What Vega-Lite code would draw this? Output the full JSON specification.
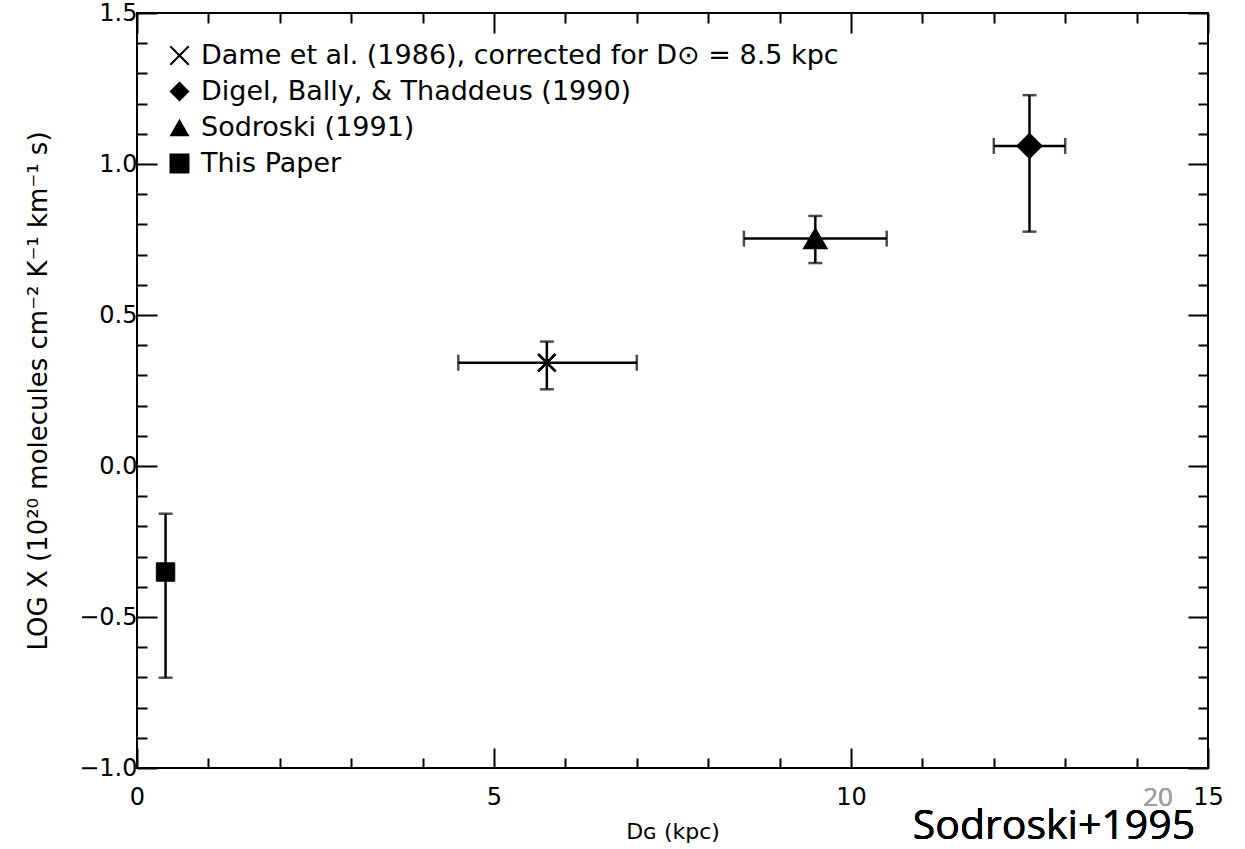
{
  "$schema": "https://vega.github.io/schema/vega-lite/v6.json",
  "width": 1071,
  "height": 755,
  "autosize": {"type": "none"},
  "padding": {"left": 137, "top": 13, "right": 37, "bottom": 81},
  "background": "white",
  "config": {
    "view": {"stroke": "black", "strokeWidth": 2},
    "font": "DejaVu Sans",
    "axis": {
      "grid": false,
      "domain": false,
      "labelFlush": false,
      "tickColor": "black",
      "tickWidth": 2,
      "labelColor": "black",
      "labelFont": "DejaVu Sans",
      "labelFontSize": 24,
      "titleFont": "DejaVu Sans",
      "titleColor": "black",
      "titleFontWeight": "normal",
      "titleFontSize": 22
    },
    "legend": {
      "orient": "top-left",
      "offset": 29,
      "padding": 0,
      "labelFont": "DejaVu Sans",
      "labelFontSize": 27,
      "labelColor": "black",
      "labelLimit": 1000,
      "symbolSize": 400,
      "symbolFillColor": "black",
      "symbolStrokeColor": "black",
      "symbolStrokeWidth": 1,
      "rowPadding": 8,
      "labelOffset": 8
    }
  },
  "data": {
    "values": [
      {"source": "Dame et al. (1986), corrected for D⊙ = 8.5 kpc", "dg": 5.74, "logx": 0.342, "dg_lo": 4.5, "dg_hi": 7.0, "logx_lo": 0.254, "logx_hi": 0.412},
      {"source": "Digel, Bally, & Thaddeus (1990)", "dg": 12.5, "logx": 1.06, "dg_lo": 12.0, "dg_hi": 13.0, "logx_lo": 0.776, "logx_hi": 1.228},
      {"source": "Sodroski (1991)", "dg": 9.5, "logx": 0.753, "dg_lo": 8.5, "dg_hi": 10.5, "logx_lo": 0.672, "logx_hi": 0.828},
      {"source": "This Paper", "dg": 0.4, "logx": -0.351, "dg_lo": null, "dg_hi": null, "logx_lo": -0.701, "logx_hi": -0.158}
    ]
  },
  "resolve": {"axis": {"x": "independent", "y": "independent"}},
  "layer": [
    {
      "mark": {"type": "errorbar", "ticks": {"size": 14}, "thickness": 2.5, "color": "black"},
      "encoding": {
        "x": {
          "field": "dg", "type": "quantitative",
          "scale": {"domain": [0, 15], "nice": false, "zero": false},
          "axis": {
            "orient": "bottom",
            "values": [0,1,2,3,4,5,6,7,8,9,10,11,12,13,14,15],
            "labelExpr": "datum.value % 5 === 0 ? datum.label : ''",
            "tickSize": {"condition": {"test": "datum.value % 5 === 0", "value": -20}, "value": -10},
            "labelPadding": 37,
            "title": "Dɢ (kpc)",
            "titlePadding": 12
          }
        },
        "y": {
          "field": "logx_lo", "type": "quantitative",
          "scale": {"domain": [-1, 1.5], "nice": false, "zero": false},
          "axis": {
            "orient": "left",
            "values": [-1,-0.9,-0.8,-0.7,-0.6,-0.5,-0.4,-0.3,-0.2,-0.1,0,0.1,0.2,0.3,0.4,0.5,0.6,0.7,0.8,0.9,1,1.1,1.2,1.3,1.4,1.5],
            "format": ".1f",
            "labelExpr": "abs(round(datum.value*10)) % 5 === 0 ? datum.label : ''",
            "tickSize": {"condition": {"test": "abs(round(datum.value*10)) % 5 === 0", "value": -20}, "value": -10},
            "labelPadding": 20,
            "title": "LOG X (10²⁰ molecules cm⁻² K⁻¹ km⁻¹ s)",
            "titleFontSize": 26,
            "titlePadding": 27
          }
        },
        "y2": {"field": "logx_hi"}
      }
    },
    {
      "transform": [{"filter": "datum.dg_lo != null"}],
      "mark": {"type": "errorbar", "ticks": {"size": 16}, "thickness": 2.5, "color": "black"},
      "encoding": {
        "x": {
          "field": "dg_lo", "type": "quantitative",
          "scale": {"domain": [0, 15], "nice": false, "zero": false},
          "axis": {
            "orient": "top",
            "values": [0,1,2,3,4,5,6,7,8,9,10,11,12,13,14,15],
            "labels": false,
            "tickSize": {"condition": {"test": "datum.value % 5 === 0", "value": -20}, "value": -10},
            "title": null
          }
        },
        "x2": {"field": "dg_hi"},
        "y": {
          "field": "logx", "type": "quantitative",
          "scale": {"domain": [-1, 1.5], "nice": false, "zero": false},
          "axis": {
            "orient": "right",
            "values": [-1,-0.9,-0.8,-0.7,-0.6,-0.5,-0.4,-0.3,-0.2,-0.1,0,0.1,0.2,0.3,0.4,0.5,0.6,0.7,0.8,0.9,1,1.1,1.2,1.3,1.4,1.5],
            "labels": false,
            "tickSize": {"condition": {"test": "abs(round(datum.value*10)) % 5 === 0", "value": -20}, "value": -10},
            "title": null
          }
        }
      }
    },
    {
      "mark": {"type": "point", "filled": true, "opacity": 1, "stroke": "black", "strokeWidth": 1, "color": "black", "size": 340},
      "encoding": {
        "x": {"field": "dg", "type": "quantitative", "scale": {"domain": [0, 15], "nice": false, "zero": false}, "axis": null},
        "y": {"field": "logx", "type": "quantitative", "scale": {"domain": [-1, 1.5], "nice": false, "zero": false}, "axis": null},
        "shape": {
          "field": "source", "type": "nominal",
          "scale": {
            "domain": ["Dame et al. (1986), corrected for D⊙ = 8.5 kpc", "Digel, Bally, & Thaddeus (1990)", "Sodroski (1991)", "This Paper"],
            "range": ["M-0.85,-1L0,-0.15L0.85,-1L1,-0.85L0.15,0L1,0.85L0.85,1L0,0.15L-0.85,1L-1,0.85L-0.15,0L-1,-0.85Z", "diamond", "triangle-up", "square"]
          },
          "legend": {
            "title": null,
            "symbolSize": 400,
            "encode": {"symbols": {"update": {"stroke": {"value": "black"}, "strokeWidth": {"value": 1}, "fill": {"value": "black"}, "opacity": {"value": 1}}}}
          }
        }
      }
    },
    {
      "transform": [{"filter": "datum.source === 'Digel, Bally, & Thaddeus (1990)'"}],
      "mark": {"type": "point", "shape": "diamond", "filled": true, "opacity": 1, "stroke": "black", "strokeWidth": 2, "color": "black", "size": 580},
      "encoding": {
        "x": {"field": "dg", "type": "quantitative", "scale": {"domain": [0, 15], "nice": false, "zero": false}, "axis": null},
        "y": {"field": "logx", "type": "quantitative", "scale": {"domain": [-1, 1.5], "nice": false, "zero": false}, "axis": null}
      }
    },
    {
      "transform": [{"filter": "datum.source === 'Sodroski (1991)'"}],
      "mark": {"type": "point", "shape": "triangle-up", "filled": true, "opacity": 1, "stroke": "black", "strokeWidth": 2, "color": "black", "size": 500},
      "encoding": {
        "x": {"field": "dg", "type": "quantitative", "scale": {"domain": [0, 15], "nice": false, "zero": false}, "axis": null},
        "y": {"field": "logx", "type": "quantitative", "scale": {"domain": [-1, 1.5], "nice": false, "zero": false}, "axis": null}
      }
    },
    {
      "mark": {"type": "text", "font": "Open Sans", "fontSize": 26, "color": "#a0a0a0", "align": "center", "baseline": "middle"},
      "encoding": {
        "x": {"datum": 14.3, "type": "quantitative", "scale": {"domain": [0, 15], "nice": false, "zero": false}, "axis": null},
        "y": {"datum": -1.1, "type": "quantitative", "scale": {"domain": [-1, 1.5], "nice": false, "zero": false}, "axis": null},
        "text": {"value": "20"}
      }
    },
    {
      "mark": {"type": "text", "font": "Open Sans", "fontSize": 41, "color": "black", "align": "right", "baseline": "alphabetic"},
      "encoding": {
        "x": {"datum": 14.82, "type": "quantitative", "scale": {"domain": [0, 15], "nice": false, "zero": false}, "axis": null},
        "y": {"datum": -1.235, "type": "quantitative", "scale": {"domain": [-1, 1.5], "nice": false, "zero": false}, "axis": null},
        "text": {"value": "Sodroski+1995"}
      }
    }
  ]
}
